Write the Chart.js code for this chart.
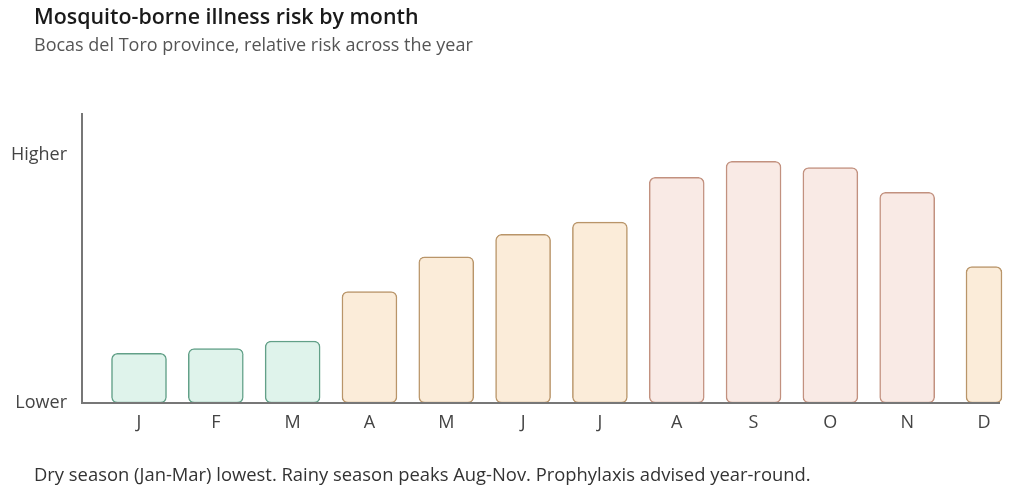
<!DOCTYPE html>
<html>
<head>
<meta charset="utf-8">
<script src="https://cdn.jsdelivr.net/npm/chart.js@4.4.1/dist/chart.umd.min.js"></script>
<style>
    body { margin: 0; background: #fff; font-family: "Open Sans", "Noto Sans", sans-serif; }
    #wrap { position: relative; width: 1024px; height: 495px; overflow: hidden; }
    #chart { position: absolute; left: 0; top: 0; }
    .title { position: absolute; left: 34px; top: 1px; font-size: 21.4px; font-weight: 600; color: #1a1a1a; }
    .subtitle { position: absolute; left: 34px; top: 32px; font-size: 18px; color: #555; }
    .note { position: absolute; left: 34px; top: 461px; font-size: 18.4px; color: #333; }
</style>
</head>
<body>
<div id="wrap">
    <canvas id="chart" width="1024" height="495"></canvas>
    <div class="title">Mosquito-borne illness risk by month</div>
    <div class="subtitle">Bocas del Toro province, relative risk across the year</div>
    <div class="note">Dry season (Jan-Mar) lowest. Rainy season peaks Aug-Nov. Prophylaxis advised year-round.</div>
</div>
<script>
const months = ['J', 'F', 'M', 'A', 'M', 'J', 'J', 'A', 'S', 'O', 'N', 'D'];
const risk = [20, 22, 25, 45, 59, 68, 73, 91, 97.5, 95, 85, 55];
const season = ['dry', 'dry', 'dry', 'mid', 'mid', 'mid', 'mid', 'peak', 'peak', 'peak', 'peak', 'mid'];
const yTicks = [0, 100];
const yTickLabels = ['Lower', 'Higher'];

const fills = { dry: '#dff3eb', mid: '#fbecd9', peak: '#f9eae5' };
const borders = { dry: '#62a088', mid: '#b99569', peak: '#c2917f' };

// last month is drawn narrower in the original, so it gets its own dataset
const last = months.length - 1;
const mainData = risk.map((v, i) => i === last ? null : v);
const lastData = risk.map((v, i) => i === last ? v : null);

// plain axis lines that reach past the first and last bar
const axisLines = {
    id: 'axisLines',
    afterDatasetsDraw(chart) {
        const { ctx, chartArea } = chart;
        ctx.save();
        ctx.strokeStyle = '#777';
        ctx.lineWidth = 2;
        ctx.beginPath();
        ctx.moveTo(chartArea.left - 57, chartArea.top);
        ctx.lineTo(chartArea.left - 57, chartArea.bottom);
        ctx.lineTo(chartArea.right + 16, chartArea.bottom);
        ctx.stroke();
        ctx.restore();
    }
};

const barStyle = {
    backgroundColor: ctx => fills[season[ctx.dataIndex]],
    borderColor: ctx => borders[season[ctx.dataIndex]],
    borderWidth: 1.5,
    borderRadius: 6,
    borderSkipped: false,
    grouped: false,
    clip: false
};

new Chart(document.getElementById('chart'), {
    type: 'bar',
    data: {
        labels: months,
        datasets: [
            { data: mainData, barThickness: 55, ...barStyle },
            { data: lastData, barThickness: 36, ...barStyle }
        ]
    },
    options: {
        responsive: false,
        animation: false,
        layout: { padding: { top: 113, bottom: 62, left: 0, right: 40 } },
        plugins: { legend: { display: false }, tooltip: { enabled: false } },
        scales: {
            x: {
                offset: false,
                grid: { display: false },
                border: { display: false },
                afterFit: s => { s.height = 30; },
                ticks: { color: '#444', font: { family: 'Open Sans', size: 18 }, padding: 1, maxRotation: 0 }
            },
            y: {
                min: 0,
                max: 117,
                grid: { display: false },
                border: { display: false },
                afterFit: s => { s.width = 139; },
                afterBuildTicks: s => { s.ticks = yTicks.map(v => ({ value: v })); },
                ticks: {
                    color: '#444',
                    font: { family: 'Open Sans', size: 18 },
                    padding: 64,
                    callback: v => yTickLabels[yTicks.indexOf(v)]
                }
            }
        }
    },
    plugins: [axisLines]
});
</script>
</body>
</html>
